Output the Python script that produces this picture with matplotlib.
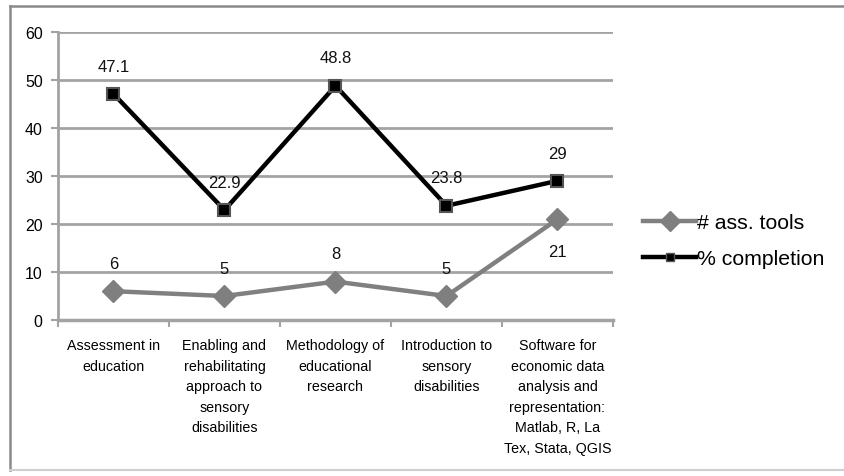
import matplotlib
matplotlib.use("Agg")
import matplotlib.pyplot as plt
from matplotlib.lines import Line2D

categories = [
    "Assessment in\neducation",
    "Enabling and\nrehabilitating\napproach to\nsensory\ndisabilities",
    "Methodology of\neducational\nresearch",
    "Introduction to\nsensory\ndisabilities",
    "Software for\neconomic data\nanalysis and\nrepresentation:\nMatlab, R, La\nTex, Stata, QGIS",
]
ass_tools = [6, 5, 8, 5, 21]
completion = [47.1, 22.9, 48.8, 23.8, 29]
ass_label_pos = ["above", "above", "above", "above", "below"]
yticks = [0, 10, 20, 30, 40, 50, 60]

plt.rcParams['font.family'] = ['Liberation Sans', 'DejaVu Sans']

fig = plt.figure(figsize=(8.45, 4.77), dpi=100)
ax = fig.add_axes([58/845, 1-321/477, (613-58)/845, (321-33)/477])

grid_c = "#a3a3a3"
x = list(range(len(categories)))

for yv in yticks[1:]:
    ax.axhline(yv, color=grid_c, lw=2, zorder=1)

ax.plot(x, ass_tools, color="#808080", lw=3.2, marker="D", markersize=11,
        markerfacecolor="#7f7f7f", markeredgecolor="#7f7f7f", zorder=3,
        label="# ass. tools")
ax.plot(x, completion, color="black", lw=3.2, marker="s", markersize=9,
        markerfacecolor="black", markeredgecolor="#555555", markeredgewidth=1.5,
        zorder=4, label="% completion")

lab_font = dict(fontsize=12, color="#111111")
for xi, v in zip(x, completion):
    ax.annotate(f"{v:g}", (xi, v), xytext=(0, 20), textcoords="offset points",
                ha="center", va="center", **lab_font)
for xi, v, p in zip(x, ass_tools, ass_label_pos):
    off = 20 if p == "above" else -23
    ax.annotate(f"{v:g}", (xi, v), xytext=(0, off), textcoords="offset points",
                ha="center", va="center", **lab_font)

ax.set_xlim(-0.5, len(categories) - 0.5)
ax.set_ylim(0, 60)
ax.set_yticks(yticks)
ax.set_yticklabels([str(t) for t in yticks], fontsize=11.5)
ax.tick_params(axis="y", length=5, width=1.5, color=grid_c, pad=6)
ax.set_xticks(x)
ax.set_xticklabels(categories, fontsize=10.3, linespacing=1.6, va="top")
ax.tick_params(axis="x", which="major", length=0, pad=13)
ax.set_xticks([i - 0.5 for i in range(len(categories) + 1)], minor=True)
ax.tick_params(axis="x", which="minor", length=5, width=1.5, color=grid_c, direction="out")

for s in ["top", "right"]:
    ax.spines[s].set_visible(False)
ax.spines["left"].set_color(grid_c)
ax.spines["left"].set_linewidth(2)
ax.spines["bottom"].set_color(grid_c)
ax.spines["bottom"].set_linewidth(2.5)

handles = [
    Line2D([], [], color="#808080", lw=3.2, marker="D", markersize=10,
           markerfacecolor="#7f7f7f", markeredgecolor="#7f7f7f"),
    Line2D([], [], color="black", lw=3.2, marker="s", markersize=6,
           markerfacecolor="black", markeredgecolor="#555555"),
]
fig.legend(handles, ["# ass. tools", "% completion"], loc="center left",
           bbox_to_anchor=(643/845, 1-242/477), frameon=False, handlelength=2.5,
           handletextpad=0.05, labelspacing=0.8, borderpad=0, borderaxespad=0,
           prop=dict(size=15.3))

# outer frame (left/top darker, bottom lighter)
fig.add_artist(Line2D([10/845, 10/845], [1-471/477, 1-7/477], transform=fig.transFigure,
                      color="#8a8a8a", lw=1.8))
fig.add_artist(Line2D([10/845, 1.0], [1-7/477, 1-7/477], transform=fig.transFigure,
                      color="#8a8a8a", lw=1.8))
fig.add_artist(Line2D([10/845, 1.0], [1-471/477, 1-471/477], transform=fig.transFigure,
                      color="#cfcfcf", lw=1.5))

fig.savefig("out.png", dpi=100, facecolor="white")
